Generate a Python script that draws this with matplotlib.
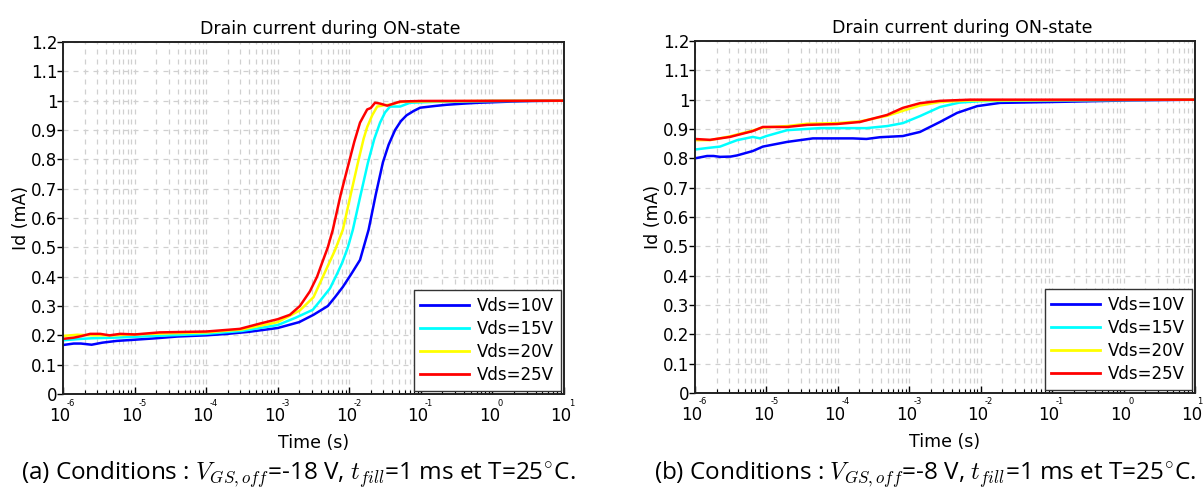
import numpy as np
import matplotlib
matplotlib.use("Agg")
import matplotlib.pyplot as plt
from matplotlib.ticker import LogLocator, FixedLocator, NullFormatter
import matplotlib.transforms as mtransforms

plt.rcParams['mathtext.fontset'] = 'cm'

labels = ["Vds=10V", "Vds=15V", "Vds=20V", "Vds=25V"]
colors = ["#0000ff", "#00ffff", "#ffff00", "#ff0000"]

# ---- panel (a): log10(time) and Id (mA) ----
a_10_logt = [-6.0, -5.85, -5.75, -5.6, -5.45, -5.25, -5.0, -4.7, -4.4, -4.0, -3.7, -3.4, -3.0, -2.7, -2.5,
             -2.3, -2.2, -2.09, -1.97, -1.85, -1.73, -1.63, -1.53, -1.45, -1.36, -1.28, -1.2, -1.1, -1.01,
             -0.8, -0.64, -0.4, -0.18, 0.28, 0.6, 1.0]
a_10_id = [0.167, 0.172, 0.172, 0.168, 0.175, 0.181, 0.185, 0.19, 0.196, 0.200, 0.205, 0.212, 0.225, 0.245, 0.27,
           0.30, 0.33, 0.365, 0.41, 0.457, 0.56, 0.68, 0.79, 0.85, 0.90, 0.93, 0.95, 0.965, 0.976,
           0.982, 0.986, 0.99, 0.993, 0.997, 0.999, 1.0]

a_15_logt = [-6.0, -5.8, -5.6, -5.3, -5.0, -4.5, -4.0, -3.5, -3.0, -2.75, -2.51, -2.4, -2.27, -2.17, -2.10,
             -2.02, -1.95, -1.85, -1.74, -1.65, -1.57, -1.5, -1.43, -1.35, -1.29, -1.15, -0.8, 0.0, 1.0]
a_15_id = [0.183, 0.187, 0.19, 0.192, 0.195, 0.2, 0.205, 0.215, 0.235, 0.26, 0.287, 0.32, 0.36, 0.41, 0.447,
           0.5, 0.56, 0.67, 0.788, 0.87, 0.925, 0.96, 0.98, 0.98, 0.98, 0.993, 0.996, 0.999, 1.0]

a_20_logt = [-6.0, -5.8, -5.6, -5.3, -5.0, -4.5, -4.0, -3.5, -3.0, -2.69, -2.5, -2.35, -2.2, -2.09, -1.98,
             -1.88, -1.80, -1.75, -1.68, -1.61, -1.5, -1.43, -1.3, -1.2, 0.0, 1.0]
a_20_id = [0.198, 0.202, 0.2, 0.2, 0.203, 0.207, 0.21, 0.22, 0.245, 0.285, 0.33, 0.41, 0.49, 0.56, 0.68,
           0.788, 0.87, 0.91, 0.95, 0.98, 0.985, 0.986, 0.995, 0.997, 0.999, 1.0]

a_25_logt = [-6.0, -5.85, -5.75, -5.62, -5.48, -5.35, -5.2, -5.0, -4.65, -4.0, -3.53, -3.25, -3.0, -2.83,
             -2.69, -2.55, -2.45, -2.38, -2.30, -2.23, -2.12, -2.02, -1.93, -1.85, -1.75, -1.70, -1.64,
             -1.57, -1.47, -1.38, -1.29, -1.0, 1.0]
a_25_id = [0.188, 0.192, 0.197, 0.205, 0.205, 0.2, 0.205, 0.203, 0.21, 0.213, 0.222, 0.24, 0.255, 0.27,
           0.30, 0.35, 0.40, 0.447, 0.5, 0.56, 0.68, 0.775, 0.86, 0.925, 0.97, 0.975, 0.993,
           0.99, 0.983, 0.99, 0.997, 0.999, 1.0]

# ---- panel (b) ----
b_10_logt = [-6.0, -5.83, -5.74, -5.65, -5.5, -5.41, -5.19, -5.05, -4.71, -4.35, -3.79, -3.6, -3.41, -3.09,
             -2.85, -2.57, -2.33, -2.05, -1.73, -0.79, 0.0, 1.0]
b_10_id = [0.80, 0.808, 0.808, 0.805, 0.806, 0.81, 0.825, 0.84, 0.856, 0.868, 0.868, 0.866, 0.872, 0.876,
           0.89, 0.924, 0.955, 0.978, 0.989, 0.993, 0.997, 1.0]

b_15_logt = [-6.0, -5.8, -5.65, -5.41, -5.19, -5.09, -5.0, -4.71, -4.25, -3.6, -3.31, -3.09, -2.85, -2.57,
             -2.3, -2.0, -1.0, 1.0]
b_15_id = [0.83, 0.836, 0.84, 0.862, 0.873, 0.868, 0.876, 0.896, 0.903, 0.903, 0.91, 0.92, 0.944, 0.975,
           0.99, 0.995, 0.998, 1.0]

b_20_logt = [-6.0, -5.79, -5.51, -5.19, -5.05, -4.71, -4.43, -4.01, -3.69, -3.31, -3.09, -2.85, -2.57, -2.2, 1.0]
b_20_id = [0.862, 0.862, 0.875, 0.895, 0.905, 0.91, 0.918, 0.92, 0.926, 0.945, 0.962, 0.98, 0.992, 0.997, 1.0]

b_25_logt = [-6.0, -5.79, -5.51, -5.19, -5.05, -4.71, -4.43, -4.01, -3.69, -3.31, -3.09, -2.85, -2.57, -2.15, 1.0]
b_25_id = [0.866, 0.863, 0.873, 0.893, 0.907, 0.907, 0.914, 0.917, 0.924, 0.948, 0.972, 0.988, 0.996, 1.0, 1.0]

panel_a = [(a_10_logt, a_10_id), (a_15_logt, a_15_id), (a_20_logt, a_20_id), (a_25_logt, a_25_id)]
panel_b = [(b_10_logt, b_10_id), (b_15_logt, b_15_id), (b_20_logt, b_20_id), (b_25_logt, b_25_id)]

yticks = [0, 0.1, 0.2, 0.3, 0.4, 0.5, 0.6, 0.7, 0.8, 0.9, 1.0, 1.1, 1.2]
ytick_labels = ["0", "0.1", "0.2", "0.3", "0.4", "0.5", "0.6", "0.7", "0.8", "0.9", "1", "1.1", "1.2"]
xdecades = [-6, -5, -4, -3, -2, -1, 0, 1]

title = "Drain current during ON-state"
captions = [r"(a) Conditions : $V_{GS,off}$=-18 V, $t_{fill}$=1 ms et T=25$^{\circ}$C.",
            r"(b) Conditions : $V_{GS,off}$=-8 V, $t_{fill}$=1 ms et T=25$^{\circ}$C."]

W, H = 1203, 488
fig = plt.figure(figsize=(W / 100, H / 100), dpi=100)

axes_px = [(63, 42, 564, 394), (695, 41, 1195, 393)]
caption_x = [298, 925]

grid_col = "#d0d0d0"
for k, (panel, (x0, y0, x1, y1)) in enumerate(zip([panel_a, panel_b], axes_px)):
    ax = fig.add_axes([x0 / W, 1 - y1 / H, (x1 - x0) / W, (y1 - y0) / H])
    for (lt, vals), c, lab in zip(panel, colors, labels):
        ax.plot(10.0 ** np.array(lt), vals, color=c, lw=1.8, label=lab)
    ax.set_xscale('log')
    ax.set_xlim(1e-6, 1e1)
    ax.set_ylim(0, 1.2)
    ax.yaxis.set_major_locator(FixedLocator(yticks))
    ax.set_yticklabels(ytick_labels)
    ax.xaxis.set_major_locator(FixedLocator([10.0 ** d for d in xdecades]))
    ax.xaxis.set_minor_locator(LogLocator(base=10, subs=np.arange(2, 10), numticks=50))
    ax.xaxis.set_major_formatter(NullFormatter())
    ax.xaxis.set_minor_formatter(NullFormatter())
    ax.tick_params(axis='y', direction='out', length=4, pad=0, labelsize=12, width=1)
    ax.tick_params(axis='x', which='major', direction='in', length=5, width=1)
    ax.tick_params(axis='x', which='minor', direction='in', length=3, width=0.8)
    ax.grid(True, which='major', axis='both', color=grid_col, ls=(0, (4, 4)), lw=0.9)
    ax.grid(True, which='minor', axis='x', color=grid_col, ls=(0, (4, 4)), lw=0.9)
    ax.set_axisbelow(True)
    for s in ax.spines.values():
        s.set_linewidth(1.4)
        s.set_color("#222222")
    # custom decade labels
    for d in xdecades:
        tr_main = ax.get_xaxis_transform() + mtransforms.ScaledTranslation(-3 / 100, -22 / 100, fig.dpi_scale_trans)
        ax.text(10.0 ** d, 0, "10", transform=tr_main, ha='center', va='center', fontsize=12, clip_on=False)
        dx = 8 if d < 1 or k == 0 else 5
        tr_exp = ax.get_xaxis_transform() + mtransforms.ScaledTranslation(dx / 100, -9 / 100, fig.dpi_scale_trans)
        ax.text(10.0 ** d, 0, str(d), transform=tr_exp, ha='center', va='center', fontsize=6, clip_on=False)
    ax.set_title(title, fontsize=12.5, pad=6, x=0.5 + 17 / (x1 - x0))
    ax.set_ylabel("Id (mA)", fontsize=12.5, labelpad=1)
    ax.set_xlabel("Time (s)", fontsize=12.5, labelpad=25)
    leg = ax.legend(loc='lower right', fontsize=12, handlelength=2.9, handletextpad=0.5,
                    borderpad=0.4, labelspacing=0.3, fancybox=False, framealpha=1,
                    edgecolor="#333333", borderaxespad=0.2)
    leg.get_frame().set_linewidth(1.0)
    for ln in leg.get_lines():
        ln.set_linewidth(2.0)
    fig.text(caption_x[k] / W, 1 - 475 / H, captions[k], ha='center', va='center',
             fontsize=17.5, family='Open Sans')

fig.savefig("out.png", dpi=100)
